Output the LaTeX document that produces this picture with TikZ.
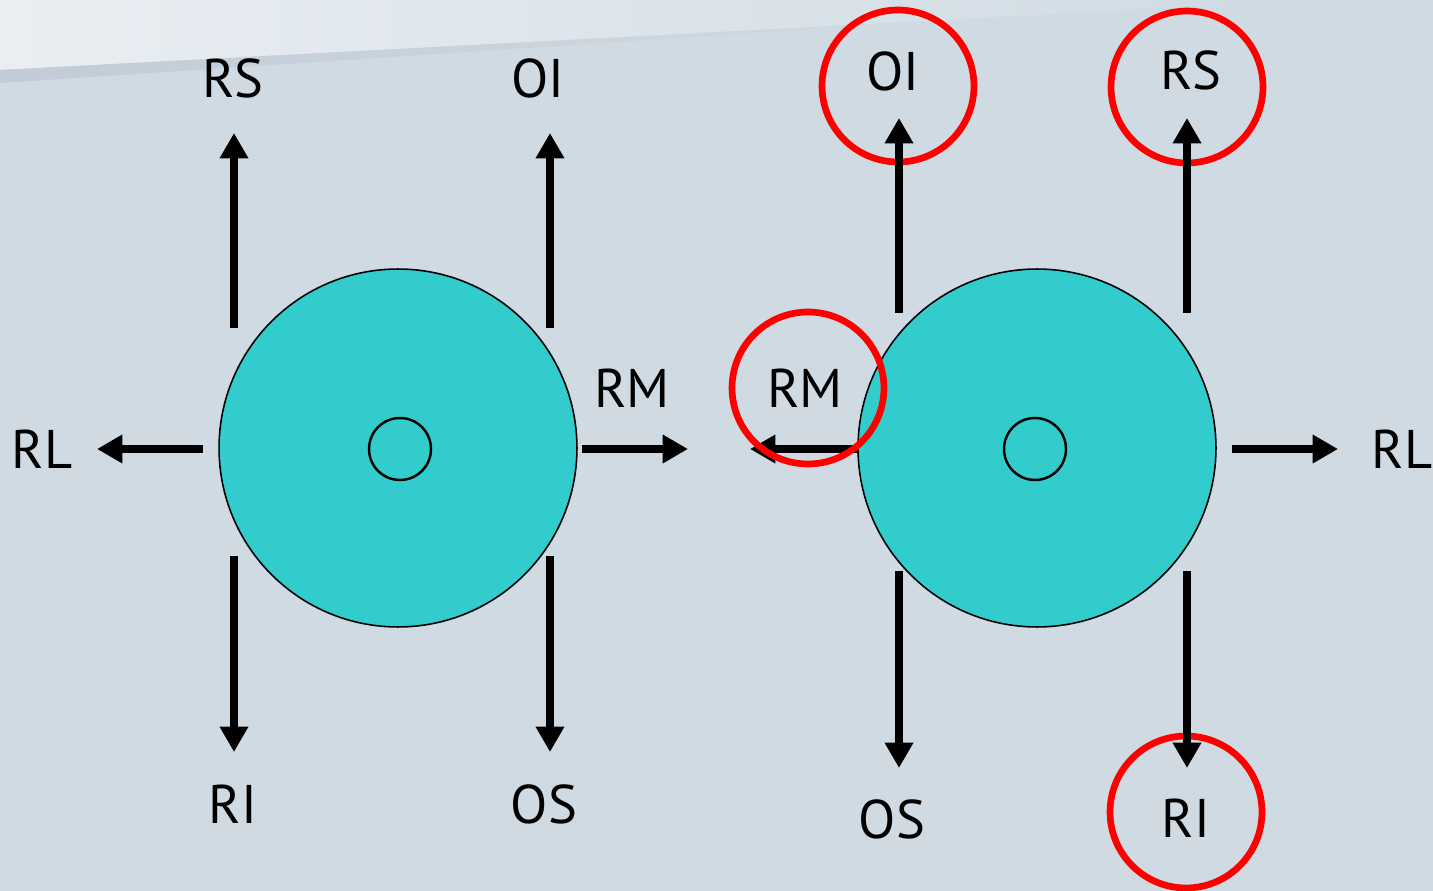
\documentclass[tikz,border=0pt]{standalone}
\usepackage{fontspec}
\setmainfont{PT Sans}
\usetikzlibrary{arrows.meta}
\definecolor{bg}{HTML}{CFDAE3}
\definecolor{bglight}{HTML}{E9EEF2}
\definecolor{bgshadow}{HTML}{C2CCD6}
\definecolor{teal}{HTML}{33CCCC}
\definecolor{ringred}{HTML}{FF0000}
\tikzset{
  bigdisk/.style={circle, draw=black, line width=0.9pt, fill=teal, minimum size=7.16cm, inner sep=0pt},
  hub/.style={circle, draw=black, line width=1.4pt, minimum size=1.24cm, inner sep=0pt},
  ring/.style={circle, draw=ringred, line width=3.8pt, minimum size=3.04cm, inner sep=0pt},
  lbl/.style={font=\fontsize{31}{34}\selectfont, text=black, inner sep=0pt},
  arr/.style={line width=4.6pt, -{Triangle[length=14.5pt,width=15.5pt]}},
}
\begin{document}
\begin{tikzpicture}[x=0.02cm, y=-0.02cm]
\useasboundingbox (0,0) rectangle (1433,891);
% background
\fill[bg] (0,0) rectangle (1433,891);
\shade[left color=bglight, right color=bg] (0,0) -- (1320,0) -- (0,70) -- cycle;
\shade[left color=bgshadow, right color=bg] (0,70) -- (950,20) -- (0,83) -- cycle;

% ---------- left disk ----------
\node[bigdisk] (L) at (398,448) {};
\node[hub] (Lh) at (400,449) {};

\node[lbl] (LRS) at (233,78) {RS};
\node[lbl] (LOI) at (538,78) {OI};
\node[lbl] (LRL) at (42,449) {RL};
\node[lbl] (LRM) at (632,388) {RM};
\node[lbl] (LRI) at (233,804) {RI};
\node[lbl] (LOS) at (544,804) {OS};

\coordinate (a1s) at (234,328); \coordinate (a1e) at (234,133);
\coordinate (a2s) at (550,328); \coordinate (a2e) at (550,133);
\coordinate (a3s) at (203,449); \coordinate (a3e) at (97,449);
\coordinate (a4s) at (582,449); \coordinate (a4e) at (688,449);
\coordinate (a5s) at (234,556); \coordinate (a5e) at (234,752);
\coordinate (a6s) at (550,556); \coordinate (a6e) at (550,752);
\draw[arr] (a1s) -- (a1e);
\draw[arr] (a2s) -- (a2e);
\draw[arr] (a3s) -- (a3e);
\draw[arr] (a4s) -- (a4e);
\draw[arr] (a5s) -- (a5e);
\draw[arr] (a6s) -- (a6e);

% ---------- right disk ----------
\node[bigdisk] (R) at (1037,448) {};
\node[hub] (Rh) at (1035,449) {};

\node[ring] (cOI) at (898,86) {};
\node[ring] (cRS) at (1187,87) {};
\node[ring] (cRI) at (1186,812) {};

\node[lbl] (ROI) at (893,71) {OI};
\node[lbl] (RRS) at (1191,70) {RS};
\node[lbl] (RRM) at (805,388) {RM};
\node[lbl] (RRL) at (1402,449) {RL};
\node[lbl] (ROS) at (892,819) {OS};
\node[lbl] (RRI) at (1186,818) {RI};

\coordinate (b1s) at (899,313); \coordinate (b1e) at (899,118);
\coordinate (b2s) at (1187,313); \coordinate (b2e) at (1187,118);
\coordinate (b3s) at (858,449); \coordinate (b3e) at (750,449);
\coordinate (b4s) at (1232,449); \coordinate (b4e) at (1338,449);
\coordinate (b5s) at (899,571); \coordinate (b5e) at (899,768);
\coordinate (b6s) at (1187,571); \coordinate (b6e) at (1187,768);
\draw[arr] (b1s) -- (b1e);
\draw[arr] (b2s) -- (b2e);
\draw[arr] (b3s) -- (b3e);
\draw[arr] (b4s) -- (b4e);
\draw[arr] (b5s) -- (b5e);
\draw[arr] (b6s) -- (b6e);

\node[ring] (cRM) at (808,388) {};
\end{tikzpicture}
\end{document}
